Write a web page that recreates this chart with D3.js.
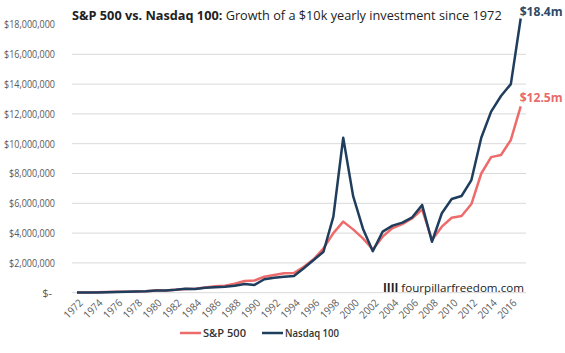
<!DOCTYPE html>
<html>
<head>
<meta charset="utf-8">
<script src="https://cdn.jsdelivr.net/npm/d3@7"></script>
<style>
  body { margin: 0; background: #fff; }
  svg { display: block; font-family: "Open Sans", "Noto Sans", sans-serif; }
</style>
</head>
<body>
<div id="chart"></div>
<script>
// data (values in $ millions)
const years = d3.range(1972, 2018);
const sp500 = [
  0.01, 0.018, 0.024, 0.04, 0.058, 0.066, 0.082, 0.105, 0.15, 0.155,
  0.195, 0.245, 0.265, 0.35, 0.43, 0.47, 0.6, 0.78, 0.82, 1.07,
  1.19, 1.3, 1.32, 1.74, 2.24, 2.98, 4.0, 4.77, 4.25, 3.65,
  2.9, 3.76, 4.34, 4.6, 5.0, 5.6, 3.54, 4.43, 5.03, 5.15,
  5.95, 8.0, 9.1, 9.24, 10.25, 12.5
];
const nasdaq100 = [
  0.01, 0.014, 0.018, 0.035, 0.05, 0.06, 0.075, 0.1, 0.15, 0.15,
  0.2, 0.27, 0.25, 0.33, 0.37, 0.4, 0.46, 0.58, 0.52, 0.9,
  1.0, 1.07, 1.12, 1.64, 2.19, 2.75, 5.1, 10.4, 6.5, 4.3,
  2.78, 4.1, 4.5, 4.7, 5.06, 5.89, 3.42, 5.33, 6.29, 6.49,
  7.56, 10.4, 12.15, 13.2, 14.0, 18.4
];
const yTicks = [0, 2, 4, 6, 8, 10, 12, 14, 16, 18];
const xTickYears = d3.range(1972, 2017, 2);
const seriesNames = ['S&P 500', 'Nasdaq 100'];
const endLabels = ['$12.5m', '$18.4m'];

const colors = { sp: '#ee6b6b', nq: '#1f3d5c' };

const width = 565, height = 353;

const svg = d3.select('#chart')
  .append('svg')
  .attr('width', width)
  .attr('height', height);

// scale a text's font size so it takes a given width
const fitWidth = (sel, size, target) => {
  const len = sel.node().getComputedTextLength();
  const s = size * target / len;
  sel.attr('font-size', s);
  return s;
};

const x = d3.scaleLinear()
  .domain([1972, 2017])
  .range([77, 520.7]);

const y = d3.scaleLinear()
  .domain([0, 18])
  .range([292.7, 24.5]);

// gridlines
svg.append('g')
  .selectAll('line')
  .data(yTicks.filter(d => d > 0 && d < 18))
  .join('line')
  .attr('x1', 72).attr('x2', 526)
  .attr('y1', d => y(d)).attr('y2', d => y(d))
  .attr('stroke', '#d9d9d9')
  .attr('stroke-width', 1);

// baseline
svg.append('line')
  .attr('x1', 72).attr('x2', 526)
  .attr('y1', y(0)).attr('y2', y(0))
  .attr('stroke', '#d9d9d9');

// y axis labels, squeezed to the narrow face of the reference
const fmt = d => d === 0 ? '$-' : '$' + d3.format(',')(d * 1e6);
svg.append('g')
  .selectAll('text')
  .data(yTicks)
  .join('text')
  .attr('x', d => d === 0 ? 52 : 55)
  .attr('y', d => y(d))
  .attr('dy', '0.35em')
  .attr('text-anchor', 'end')
  .attr('font-size', 11)
  .attr('fill', '#595959')
  .attr('textLength', d => d === 0 ? null : (d >= 10 ? 51 : 46))
  .attr('lengthAdjust', 'spacingAndGlyphs')
  .text(fmt);

// x axis labels
svg.append('g')
  .selectAll('text')
  .data(xTickYears)
  .join('text')
  .attr('transform', d => `translate(${x(d) + 4},${301}) rotate(-45)`)
  .attr('text-anchor', 'end')
  .attr('dy', '0.35em')
  .attr('font-size', 10.5)
  .attr('fill', '#595959')
  .attr('textLength', 22)
  .attr('lengthAdjust', 'spacingAndGlyphs')
  .text(d => d);

// lines
const line = vals => d3.line()
  .x((d, i) => x(years[i]))
  .y(d => y(d))(vals);

svg.append('path')
  .attr('d', line(sp500))
  .attr('fill', 'none')
  .attr('stroke', colors.sp)
  .attr('stroke-width', 2.5)
  .attr('stroke-linejoin', 'round');

svg.append('path')
  .attr('d', line(nasdaq100))
  .attr('fill', 'none')
  .attr('stroke', colors.nq)
  .attr('stroke-width', 2.5)
  .attr('stroke-linejoin', 'round');

// end labels
const last = years.length - 1;
const nqLabel = svg.append('text')
  .attr('x', x(years[last]) - 1)
  .attr('y', y(nasdaq100[last]) - 3)
  .attr('font-size', 12)
  .attr('font-weight', 'bold')
  .attr('fill', '#2d4a68')
  .text(endLabels[1]);
fitWidth(nqLabel, 12, 43);

const spLabel = svg.append('text')
  .attr('x', x(years[last]) - 1)
  .attr('y', y(sp500[last]) - 4)
  .attr('font-size', 12)
  .attr('font-weight', 'bold')
  .attr('fill', '#e86a6a')
  .text(endLabels[0]);
fitWidth(spLabel, 12, 43);

// title, fitted to the width it takes in the reference
const title = svg.append('text')
  .attr('x', 72)
  .attr('y', 20)
  .attr('font-size', 14)
  .attr('fill', '#222');
title.append('tspan').attr('font-weight', 'bold').text('S&P 500 vs. Nasdaq 100:');
title.append('tspan').text(' Growth of a $10k yearly investment since 1972');
fitWidth(title, 14, 430);

// watermark
const wm = svg.append('text')
  .attr('x', 383)
  .attr('y', 292)
  .attr('font-size', 13)
  .attr('fill', '#222');
wm.append('tspan').attr('font-weight', 'bold').text('IIII');
wm.append('tspan').text(' fourpillarfreedom.com');
fitWidth(wm, 13, 141);

// legend
const legend = svg.append('g').attr('transform', 'translate(180,333)');
const legendItems = [
  { name: seriesNames[0], color: colors.sp, dx: 0, w: 43 },
  { name: seriesNames[1], color: colors.nq, dx: 82, w: 54 }
];
legendItems.forEach(it => {
  legend.append('line')
    .attr('x1', it.dx).attr('x2', it.dx + 21)
    .attr('y1', 0).attr('y2', 0)
    .attr('stroke', it.color)
    .attr('stroke-width', 2.5);
  legend.append('text')
    .attr('x', it.dx + 23)
    .attr('y', 0)
    .attr('dy', '0.35em')
    .attr('font-size', 11)
    .attr('font-weight', 600)
    .attr('fill', '#333')
    .attr('textLength', it.w)
    .attr('lengthAdjust', 'spacingAndGlyphs')
    .text(it.name);
});
</script>
</body>
</html>
